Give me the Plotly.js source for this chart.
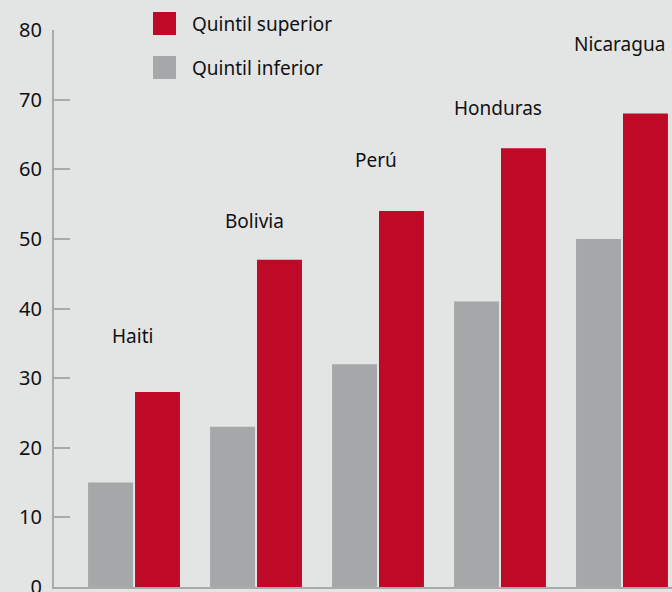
<!DOCTYPE html>
<html><head><meta charset="utf-8">
<script src="https://cdn.plot.ly/plotly-3.0.1.min.js"></script>
<style>html,body{margin:0;padding:0;background:#e3e4e4;}#chart{width:672px;height:592px;}</style>
</head><body><div id="chart"></div>
<script>
const countries = ["Haiti", "Bolivia", "Perú", "Honduras", "Nicaragua"];
const inferior = [15, 23, 32, 41, 50];
const superior = [28, 47, 54, 63, 68];
const seriesNames = ["Quintil superior", "Quintil inferior"];
const labelY = [36, 52.5, 61.3, 68.8, 78];
const yTicks = [0, 10, 20, 30, 40, 50, 60, 70, 80];

const RED = "#be0a26", GRAY = "#a6a7a8", AXIS = "#a9aaab";
const FONT = "Noto Sans, sans-serif";

const traces = [
  {type: "bar", x: countries, y: inferior, name: seriesNames[1], marker: {color: GRAY}, showlegend: false, hoverinfo: "none"},
  {type: "bar", x: countries, y: superior, name: seriesNames[0], marker: {color: RED}, showlegend: false, hoverinfo: "none"}
];

const annotations = countries.map((c, i) => ({
  x: c, y: labelY[i], xref: "x", yref: "y", text: c, showarrow: false, xshift: -2,
  font: {family: FONT, size: 19, color: "#111"}
}));
// legend drawn manually
const legendColors = [RED, GRAY];
const shapes = [];
seriesNames.forEach((n, i) => {
  shapes.push({type: "rect", xref: "paper", yref: "paper", xsizemode: "pixel", ysizemode: "pixel",
    xanchor: 0, yanchor: 1, x0: 99, x1: 122, y0: 18 - 44 * i, y1: -5 - 44 * i,
    fillcolor: legendColors[i], line: {width: 0}});
  annotations.push({xref: "paper", yref: "paper", x: 0, y: 1, xanchor: "left", yanchor: "middle",
    xshift: 136, yshift: 6 - 44 * i, text: n, showarrow: false,
    font: {family: FONT, size: 19, color: "#111"}});
});

const layout = {
  width: 672, height: 592,
  paper_bgcolor: "#e3e4e4", plot_bgcolor: "#e3e4e4",
  margin: {l: 54, r: 0, t: 30, b: 5},
  bargap: 0.23, bargroupgap: 0.043, barmode: "group",
  xaxis: {type: "category", range: [-0.656, 4.41], showticklabels: false, ticks: "",
    showline: true, linecolor: AXIS, linewidth: 2, showgrid: false, zeroline: false, fixedrange: true},
  yaxis: {range: [0, 80], tickvals: yTicks, ticktext: yTicks.map(String), ticks: "inside", ticklen: 16,
    tickwidth: 2, tickcolor: AXIS, showline: true, linecolor: AXIS, linewidth: 2, showgrid: false,
    zeroline: false, ticklabelstandoff: 6, ticklabeloverflow: "allow",
    tickfont: {family: FONT, size: 20, color: "#111"}},
  annotations: annotations, shapes: shapes, showlegend: false
};
Plotly.newPlot("chart", traces, layout, {displayModeBar: false, staticPlot: true});
</script></body></html>
